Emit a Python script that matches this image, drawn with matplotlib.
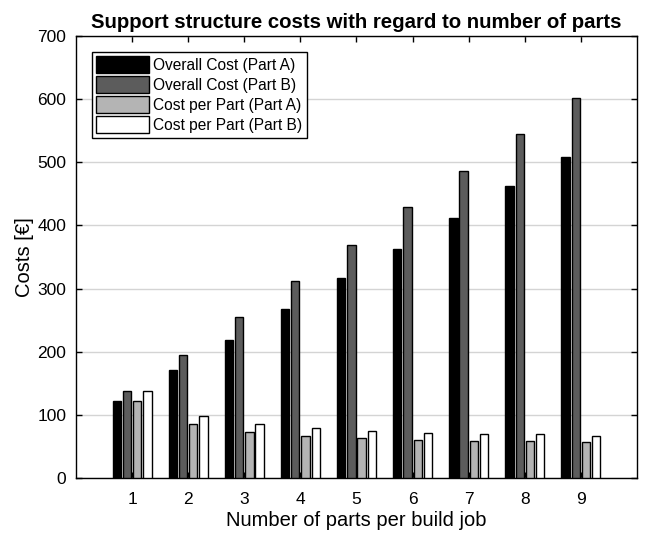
import numpy as np
import matplotlib
matplotlib.use('Agg')
import matplotlib.pyplot as plt

plt.rcParams['font.family'] = ['Liberation Sans', 'DejaVu Sans']

# parts per build job and support structure costs in EUR
parts = [1, 2, 3, 4, 5, 6, 7, 8, 9]
overall_a = [122, 171, 219, 268, 317, 363, 412, 462, 509]
overall_b = [138, 195, 255, 312, 369, 429, 486, 545, 602]
per_part_a = [122, 86, 73, 67, 63, 61, 59, 59, 57]
per_part_b = [138, 98, 86, 80, 75, 72, 69, 69, 67]

series = [overall_a, overall_b, per_part_a, per_part_b]
labels = ['Overall Cost (Part A)', 'Overall Cost (Part B)',
          'Cost per Part (Part A)', 'Cost per Part (Part B)']
colors = ['#000000', '#5c5c5c', '#b4b4b4', '#ffffff']

fig = plt.figure(figsize=(6.45, 5.35), dpi=100)
ax = fig.add_axes([0.1178, 0.1065, 0.8698, 0.8262])

x = np.array(parts)
step = 0.182
width = 0.148
for i, (vals, lab, col) in enumerate(zip(series, labels, colors)):
    off = (i - 1.5) * step
    ax.bar(x + off, vals, width, color=col, edgecolor='black',
           linewidth=1.0, label=lab, zorder=3)

ax.set_xlim(0, 10)
ax.set_ylim(0, 700)
ax.set_xticks(parts)
ax.set_yticks(np.arange(0, 701, 100))
ax.yaxis.grid(True, color='#d4d4d4', linewidth=1.0, zorder=0)
ax.tick_params(direction='in', top=True, right=True, labelsize=12.5,
               length=4, width=1)
ax.tick_params(axis='y', pad=7)
ax.tick_params(axis='x', pad=10)
for s in ax.spines.values():
    s.set_linewidth(1.0)

ax.set_title('Support structure costs with regard to number of parts',
             fontsize=14.7, fontweight='bold', pad=6)
ax.set_xlabel('Number of parts per build job', fontsize=14.5, labelpad=3)
ax.set_ylabel('Costs [€]', fontsize=14.5, labelpad=2)

leg = ax.legend(loc='upper left', fontsize=11.2, handlelength=3.4,
                handleheight=1.3, handletextpad=0.25, labelspacing=0.2,
                borderpad=0.3, borderaxespad=1.0, fancybox=False,
                framealpha=1)
leg.get_frame().set_edgecolor('black')
leg.get_frame().set_linewidth(1.0)

fig.savefig('out.png', dpi=100)
